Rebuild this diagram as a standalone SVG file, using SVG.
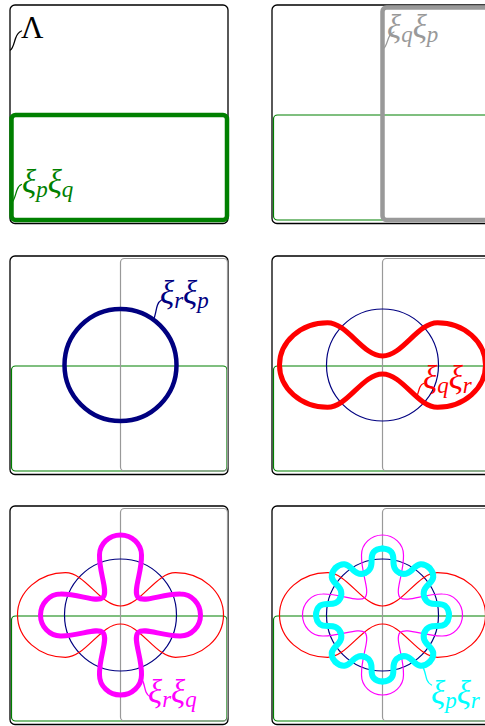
<svg xmlns="http://www.w3.org/2000/svg" xmlns:xlink="http://www.w3.org/1999/xlink" width="485" height="726" viewBox="0 0 485 726">
<style>
.frame{fill:none;stroke:#000;stroke-width:1.3}
.g{fill:none;stroke:#008000}
.gy{fill:none;stroke:#999}
.nv{fill:none;stroke:#000080}
.rd{fill:none;stroke:#f00}
.mg{fill:none;stroke:#f0f}
.cy{fill:none;stroke:#0ff}
.thin{stroke-width:1.2}
.thick{stroke-width:4.5}
.thick2{stroke-width:5}
.thick3{stroke-width:6}
.lbl{font-family:"Liberation Serif","DejaVu Serif",serif;font-style:italic;font-size:33px}
.up{font-style:normal;font-size:31px}
.sub{font-size:23px}
.lead{fill:none;stroke-width:1.3;stroke-linecap:round}
path,circle{stroke-linecap:round;stroke-linejoin:round}
</style>
<defs>
<rect id="frameR" x="10" y="5" width="218" height="218.5" rx="5"/>
<rect id="greenR" x="11.5" y="115" width="215.5" height="105" rx="4"/>
<rect id="grayR" x="120.5" y="7.5" width="107" height="212.5" rx="4"/>
<circle id="circ" cx="0" cy="0" r="56"/>
<path id="red" d="M0,-9 C20,-9 35,-42.3 55,-42.3 C81.5,-42.3 103,-23.3 103,0 C103,23.3 81.5,42.3 55,42.3 C35,42.3 20,9 0,9 C-20,9 -35,42.3 -55,42.3 C-81.5,42.3 -103,23.3 -103,0 C-103,-23.3 -81.5,-42.3 -55,-42.3 C-35,-42.3 -20,-9 0,-9 Z"/>
<path id="mag" d="M0,-80 C11.6,-80 21,-71 21,-60 C21.5,-42 12,-24 17.5,-17.5 C24,-12 42,-21.5 60,-21 C71,-21 80,-11.6 80,0 C80,11.6 71,21 60,21 C42,21.5 24,12 17.5,17.5 C12,24 21.5,42 21,60 C21,71 11.6,80 0,80 C-11.6,80 -21,71 -21,60 C-21.5,42 -12,24 -17.5,17.5 C-24,12 -42,21.5 -60,21 C-71,21 -80,11.6 -80,0 C-80,-11.6 -71,-21 -60,-21 C-42,-21.5 -24,-12 -17.5,-17.5 C-12,-24 -21.5,-42 -21,-60 C-21,-71 -11.6,-80 0,-80 Z"/>
<path id="cyp" d="M0,-66.5 C3.727,-66.396 7.187,-64.964 9.029,-62.774 C10.737,-60.535 10.93,-57.724 10.93,-54.923 C10.877,-52.127 10.893,-49.332 12.019,-47.07 C13.009,-44.789 15.036,-42.944 17.416,-42.035"/>
<g id="cyan">
<use xlink:href="#cyp" href="#cyp"/>
<use xlink:href="#cyp" href="#cyp" transform="rotate(45) scale(-1,1)"/>
<use xlink:href="#cyp" href="#cyp" transform="rotate(45)"/>
<use xlink:href="#cyp" href="#cyp" transform="rotate(90) scale(-1,1)"/>
<use xlink:href="#cyp" href="#cyp" transform="rotate(90)"/>
<use xlink:href="#cyp" href="#cyp" transform="rotate(135) scale(-1,1)"/>
<use xlink:href="#cyp" href="#cyp" transform="rotate(135)"/>
<use xlink:href="#cyp" href="#cyp" transform="rotate(180) scale(-1,1)"/>
<use xlink:href="#cyp" href="#cyp" transform="rotate(180)"/>
<use xlink:href="#cyp" href="#cyp" transform="rotate(225) scale(-1,1)"/>
<use xlink:href="#cyp" href="#cyp" transform="rotate(225)"/>
<use xlink:href="#cyp" href="#cyp" transform="rotate(270) scale(-1,1)"/>
<use xlink:href="#cyp" href="#cyp" transform="rotate(270)"/>
<use xlink:href="#cyp" href="#cyp" transform="rotate(315) scale(-1,1)"/>
<use xlink:href="#cyp" href="#cyp" transform="rotate(315)"/>
<use xlink:href="#cyp" href="#cyp" transform="rotate(360) scale(-1,1)"/>
</g>
</defs>

<g id="panel1">
<use href="#frameR" class="frame"/>
<use href="#greenR" class="g thick"/>
<text class="lbl up" x="21" y="37.5" fill="#000">Λ</text>
<text class="lbl" x="22" y="192.7" fill="#008000">ξ<tspan class="sub" dy="4">p</tspan><tspan dy="-4">ξ</tspan><tspan class="sub" dy="4">q</tspan></text>
</g>

<g id="panel2" transform="translate(262,0)">
<use href="#frameR" class="frame"/>
<use href="#greenR" class="g thin"/>
<use href="#grayR" class="gy thick"/>
<text class="lbl" x="125" y="37.7" fill="#999">ξ<tspan class="sub" dy="4">q</tspan><tspan dy="-4">ξ</tspan><tspan class="sub" dy="4">p</tspan></text>
</g>

<g id="panel3" transform="translate(0,251)">
<use href="#frameR" class="frame"/>
<use href="#greenR" class="g thin"/>
<use href="#grayR" class="gy thin"/>
<use href="#circ" class="nv thick" x="120.5" y="114"/>
<text class="lbl" x="160" y="53.3" fill="#000080">ξ<tspan class="sub" dy="4">r</tspan><tspan dy="-4">ξ</tspan><tspan class="sub" dy="4">p</tspan></text>
</g>

<g id="panel4" transform="translate(262,251)">
<use href="#frameR" class="frame"/>
<use href="#greenR" class="g thin"/>
<use href="#grayR" class="gy thin"/>
<use href="#circ" class="nv thin" x="120.5" y="114"/>
<use href="#red" class="rd thick2" x="120.5" y="114"/>
<text class="lbl" x="161" y="138.3" fill="#f00">ξ<tspan class="sub" dy="4">q</tspan><tspan dy="-4">ξ</tspan><tspan class="sub" dy="4">r</tspan></text>
</g>

<g id="panel5" transform="translate(0,501)">
<use href="#frameR" class="frame"/>
<use href="#greenR" class="g thin"/>
<use href="#grayR" class="gy thin"/>
<use href="#circ" class="nv thin" x="120.5" y="114"/>
<use href="#red" class="rd thin" x="120.5" y="114"/>
<use href="#mag" class="mg thick2" x="120.5" y="114"/>
<text class="lbl" x="148" y="201.7" fill="#f0f">ξ<tspan class="sub" dy="4">r</tspan><tspan dy="-4">ξ</tspan><tspan class="sub" dy="4">q</tspan></text>
</g>

<g id="panel6" transform="translate(262,501)">
<use href="#frameR" class="frame"/>
<use href="#greenR" class="g thin"/>
<use href="#grayR" class="gy thin"/>
<use href="#circ" class="nv thin" x="120.5" y="114"/>
<use href="#red" class="rd thin" x="120.5" y="114"/>
<use href="#mag" class="mg thin" x="120.5" y="114"/>
<use href="#cyan" class="cy thick3" x="120.5" y="114"/>
<text class="lbl" x="169" y="203.3" fill="#0ff">ξ<tspan class="sub" dy="4">p</tspan><tspan dy="-4">ξ</tspan><tspan class="sub" dy="4">r</tspan></text>
</g>

<g id="leaders">
<path class="lead" stroke="#000" d="M10.5,50 C13,48.5 14,43 15.5,38.5 C17,34 18.5,32 21.5,31"/>
<path class="lead" stroke="#008000" d="M12,202 C14.5,200 15.5,194 17,190 C18,187 19,185.5 21.5,184.5"/>
<path class="lead" stroke="#999" d="M384,48 C386.5,46 387.5,40 389,37 C390,34.5 391.5,33 394,32"/>
<path class="lead" stroke="#000080" d="M153.5,319.5 C155.5,316 156,309 157.5,305 C158.5,302.5 159.5,301 161.5,300"/>
<path class="lead" stroke="#f00" d="M416,398 C418,395.5 418.5,390 420,387 C421,385 422,384 423.5,383.5"/>
<path class="lead" stroke="#f0f" d="M141.5,678.5 C144,682 144.5,688 146,692 C147,694.5 148.5,696 150.5,697"/>
<path class="lead" stroke="#0ff" d="M422.5,666.5 C425,670 425.5,676 427,680 C428,682.5 429.5,684 431.5,685"/>
</g>
</svg>
